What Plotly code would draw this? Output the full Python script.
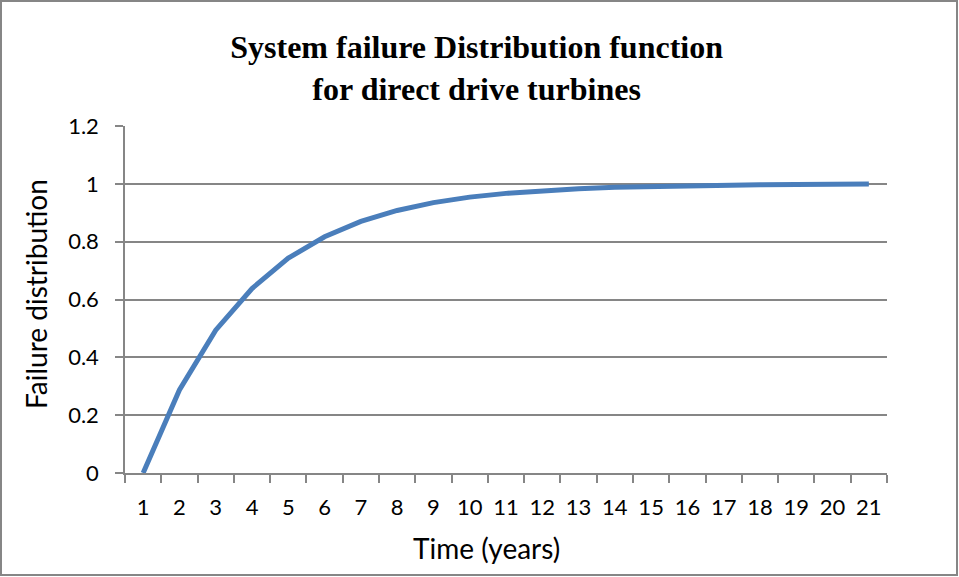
import plotly.graph_objects as go

years = [str(i) for i in range(1, 22)]
failure = [0, 0.287, 0.494, 0.638, 0.743, 0.817, 0.870, 0.908, 0.935, 0.954,
           0.967, 0.977, 0.983, 0.988, 0.991, 0.994, 0.996, 0.997, 0.998, 0.998, 0.999]
y_ticks = [0, 0.2, 0.4, 0.6, 0.8, 1, 1.2]
y_ticktext = ["0", "0.2", "0.4", "0.6", "0.8", "1", "1.2"]

W, H = 959, 577
L, R, T, B = 125, 72, 126, 104
pw, ph = W - L - R, H - T - B

def px(x):
    return (x - L) / pw

def py(y):
    return (H - B - y) / ph

fig = go.Figure()
fig.add_trace(go.Scatter(x=years, y=failure, mode="lines",
                         line=dict(color="#4A7EBB", width=5), showlegend=False))

fig.update_layout(
    width=W, height=H,
    margin=dict(l=L, r=R, t=T, b=B),
    paper_bgcolor="white", plot_bgcolor="white",
    font=dict(family="Lato, Open Sans, sans-serif", size=22, color="black"),
    xaxis=dict(type="category", tickson="boundaries", ticks="outside", ticklen=8,
               range=[-0.5, len(years) - 0.5],
               tickcolor="#868686", tickwidth=1.5, showgrid=False,
               showline=True, linecolor="#868686", linewidth=1.5,
               tickfont=dict(size=22), zeroline=False, ticklabelstandoff=14),
    yaxis=dict(range=[0, 1.2], tickvals=y_ticks, ticktext=y_ticktext,
               ticks="outside", ticklen=8, tickcolor="#868686", tickwidth=1.5,
               showgrid=True, gridcolor="#868686", gridwidth=1.5,
               showline=True, linecolor="#868686", linewidth=1.5,
               zeroline=False, tickfont=dict(size=22), ticklabelstandoff=12),
    title=dict(text="System failure Distribution function<br>for direct drive turbines",
               x=0.497, xanchor="center", y=1 - 58 / H, yanchor="middle",
               yref="container",
               font=dict(family="Liberation Serif, Times New Roman, serif", size=32,
                         color="black", weight="bold")),
)

fig.add_annotation(text="Time (years)", xref="paper", yref="paper",
                   x=px(486), y=py(548), showarrow=False, font=dict(size=28),
                   xanchor="center", yanchor="middle")
fig.add_annotation(text="Failure distribution", xref="paper", yref="paper",
                   x=px(36), y=py(294), showarrow=False, font=dict(size=28),
                   textangle=-90, xanchor="center", yanchor="middle")

fig.add_shape(type="rect", xref="paper", yref="paper",
              x0=px(1), x1=px(957), y0=py(575), y1=py(1),
              line=dict(color="#868686", width=2), fillcolor="rgba(0,0,0,0)", layer="below")

fig.write_html("out.html", config={"displayModeBar": False},
               post_script="document.body.style.margin='0';document.body.style.overflow='hidden';")
